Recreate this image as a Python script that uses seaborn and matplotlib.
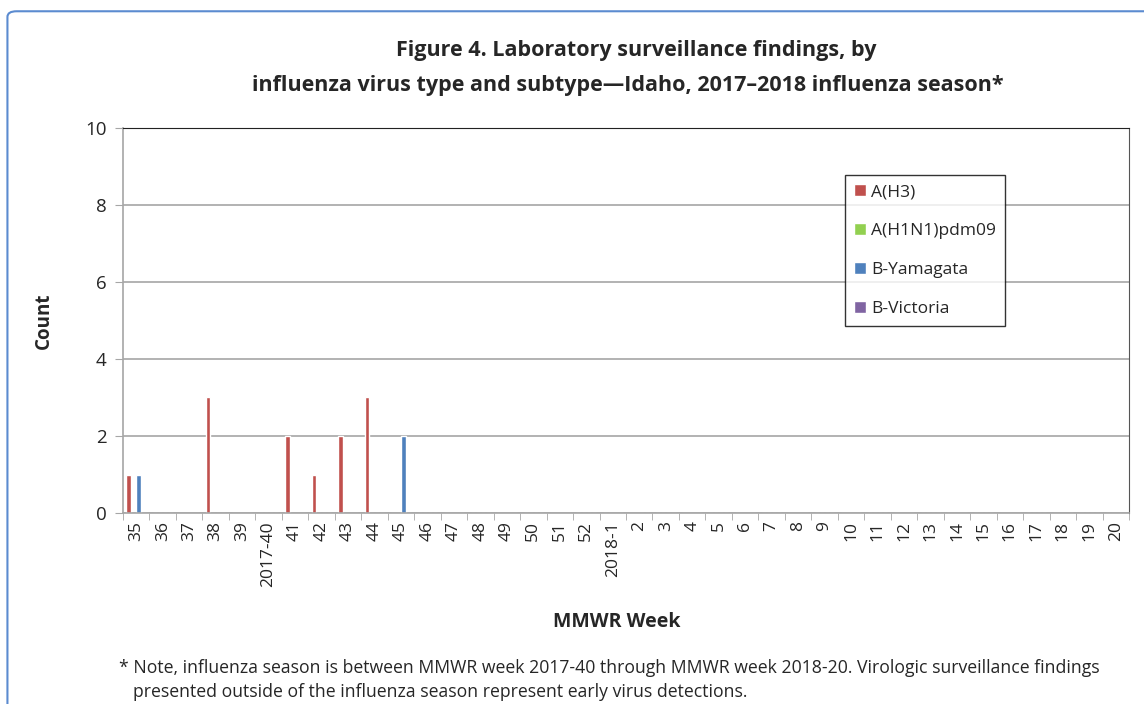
import matplotlib
matplotlib.use("Agg")
import matplotlib.pyplot as plt
from matplotlib.patches import FancyBboxPatch
import pandas as pd
import seaborn as sns

weeks = ["35", "36", "37", "38", "39", "2017-40", "41", "42", "43", "44", "45",
         "46", "47", "48", "49", "50", "51", "52", "2018-1", "2", "3", "4", "5",
         "6", "7", "8", "9", "10", "11", "12", "13", "14", "15", "16", "17",
         "18", "19", "20"]
types = ["A(H3)", "A(H1N1)pdm09", "B-Yamagata", "B-Victoria"]
colors = ["#C0504D", "#92D050", "#4F81BD", "#8064A2"]

# counts per week, only non-zero weeks listed
h3 = {"35": 1, "38": 3, "41": 2, "42": 1, "43": 2, "44": 3}
h1n1 = {}
yamagata = {"35": 1, "45": 2}
victoria = {}

rows = []
for t, d in zip(types, [h3, h1n1, yamagata, victoria]):
    for w in weeks:
        rows.append({"week": w, "type": t, "count": d.get(w, 0)})
df = pd.DataFrame(rows)

sns.set_style("white")
plt.rcParams["font.family"] = ["Open Sans", "DejaVu Sans"]

fig = plt.figure(figsize=(11.44, 7.04), dpi=100)
ax = fig.add_axes([0.1075, 0.2713, 0.8794, 0.5469])

sns.barplot(data=df, x="week", y="count", hue="type", order=weeks,
            hue_order=types, palette=colors, width=0.76, gap=0.1,
            saturation=1, ax=ax)

ax.set_ylim(0, 10)
ax.set_xlim(-0.5, len(weeks) - 0.5)
ax.set_yticks([0, 2, 4, 6, 8, 10])
ax.yaxis.grid(True, color="#A6A6A6", linewidth=1.2)
ax.set_axisbelow(True)
ax.tick_params(axis="y", labelsize=13.5, length=6, color="#A6A6A6", left=True,
               pad=6)
ax.tick_params(axis="x", which="major", length=0, labelsize=12.5, pad=6)
ax.set_xticks([i - 0.5 for i in range(len(weeks) + 1)], minor=True)
ax.tick_params(axis="x", which="minor", length=5, color="#A6A6A6",
               bottom=True)
plt.setp(ax.get_xticklabels(), rotation=90, va="top", ha="center")

for s in ["left", "bottom"]:
    ax.spines[s].set_color("#A6A6A6")
    ax.spines[s].set_linewidth(1.2)
ax.spines["top"].set_color("#222222")
ax.spines["right"].set_color("#555555")

ax.set_xlabel("MMWR Week", fontsize=14, fontweight="bold", labelpad=18)
ax.xaxis.label.set_x(0.491)
ax.set_ylabel("Count", fontsize=13.5, fontweight="bold", labelpad=22)

leg = ax.legend(loc="upper left", bbox_to_anchor=(0.709, 0.90),
                frameon=True, fancybox=False, fontsize=12.5,
                handlelength=0.7, handleheight=0.7, handletextpad=0.3,
                labelspacing=1.32, borderpad=0.5)
leg.get_frame().set_edgecolor("black")
leg.get_frame().set_linewidth(1.0)

fig.text(0.556, 0.928, "Figure 4. Laboratory surveillance findings, by",
         ha="center", va="center", fontsize=15.5, fontweight="bold")
fig.text(0.549, 0.878,
         "influenza virus type and subtype\u2014Idaho, 2017\u20132018 influenza season*",
         ha="center", va="center", fontsize=15.5, fontweight="bold")

fig.text(0.104, 0.051,
         "* Note, influenza season is between MMWR week 2017-40 through MMWR week 2018-20. "
         "Virologic surveillance findings",
         ha="left", va="center", fontsize=12.7)
fig.text(0.116, 0.017,
         "presented outside of the influenza season represent early virus detections.",
         ha="left", va="center", fontsize=12.7)

frame = FancyBboxPatch((0.0065, -0.05), 1.1, 1.034, transform=fig.transFigure,
                       boxstyle="round,pad=0,rounding_size=0.008",
                       fill=False, edgecolor="#5B8BD0", linewidth=1.5)
fig.patches.append(frame)

fig.savefig("out.png", dpi=100)
